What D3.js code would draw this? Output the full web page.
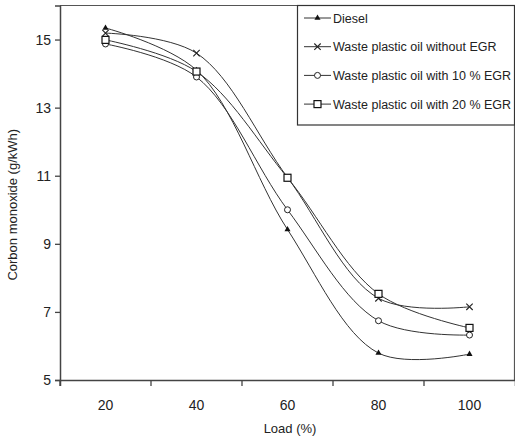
<!DOCTYPE html>
<html><head><meta charset="utf-8">
<script src="https://cdn.jsdelivr.net/npm/d3@7"></script>
<style>body{margin:0;background:#fff}svg{display:block;font-family:"Liberation Sans",Arial,sans-serif}</style>
</head><body><svg id="c" width="515" height="441"></svg>
<script>
const loads = [20, 40, 60, 80, 100];
const diesel = [15.34, 14.1, 9.42, 5.79, 5.76];
const wpoNoEGR = [15.19, 14.6, 10.95, 7.4, 7.15];
const wpo10EGR = [14.87, 13.9, 10.0, 6.74, 6.32];
const wpo20EGR = [14.99, 14.06, 10.94, 7.53, 6.53];
const yTicks = [5, 7, 9, 11, 13, 15];
const seriesNames = ["Diesel", "Waste plastic oil without EGR", "Waste plastic oil with 10 % EGR", "Waste plastic oil with 20 % EGR"];
const seriesValues = [diesel, wpoNoEGR, wpo10EGR, wpo20EGR];
const markers = ["triangle", "cross", "circle", "square"];

const svg = d3.select("#c");
const L = 60, R = 514.5, T = 5.5, B = 380;
const x = d3.scaleBand().domain(loads).range([L, R + 0.5]);
const y = d3.scaleLinear().domain([5, 16]).range([B, T]);
const cx = v => x(v) + x.bandwidth() / 2;
const col = "#333";

// frame
svg.append("path").attr("d", `M${L},${T}H${R}V${B}`).attr("fill", "none").attr("stroke", "#555").attr("stroke-width", 1.2);

const xa = svg.append("g").attr("transform", `translate(0,${B})`)
  .call(d3.axisBottom(x).tickSize(6).tickFormat(""));
xa.select(".domain").attr("stroke", "#444").attr("stroke-width", 1.5);
xa.selectAll(".tick line").attr("transform", d => `translate(${-x.bandwidth()/2},0)`).attr("stroke", "#444").attr("stroke-width", 1.3);
svg.append("g").selectAll("text").data(loads).join("text")
  .attr("x", d => cx(d)).attr("y", 410).attr("text-anchor", "middle")
  .attr("font-size", 14).attr("fill", "#222").text(d => d);

const ya = svg.append("g").attr("transform", `translate(${L},0)`)
  .call(d3.axisLeft(y).tickValues(yTicks).tickSize(5).tickPadding(4));
ya.select(".domain").attr("stroke", "#444").attr("stroke-width", 1.5);
ya.selectAll(".tick line").attr("stroke", "#444").attr("stroke-width", 1.3);
ya.selectAll(".tick text").attr("font-size", 14).attr("fill", "#222").attr("font-family", "Liberation Sans, Arial, sans-serif");

svg.append("text").attr("x", 290).attr("y", 433).attr("text-anchor", "middle")
  .attr("font-size", 13).attr("fill", "#222").text("Load (%)");
svg.append("text").attr("transform", `translate(17,${(T + B) / 2 + 12}) rotate(-90)`)
  .attr("text-anchor", "middle").attr("font-size", 13).attr("fill", "#222")
  .text("Corbon monoxide (g/kWh)");

const line = d3.line().x((d, i) => cx(loads[i])).y(d => y(d)).curve(d3.curveCatmullRom.alpha(0.5));
seriesValues.forEach(vals => {
  svg.append("path").attr("d", line(vals)).attr("fill", "none").attr("stroke", col).attr("stroke-width", 1);
});

function drawMarker(g, type, px, py) {
  if (type === "triangle") {
    g.append("path").attr("d", d3.symbol(d3.symbolTriangle, 16)()).attr("transform", `translate(${px},${py})`).attr("fill", "#111");
  } else if (type === "cross") {
    g.append("path").attr("d", `M${px-3.2},${py-3.2}L${px+3.2},${py+3.2}M${px-3.2},${py+3.2}L${px+3.2},${py-3.2}`).attr("stroke", "#222").attr("stroke-width", 1.1);
  } else if (type === "circle") {
    g.append("circle").attr("cx", px).attr("cy", py).attr("r", 3).attr("fill", "#fff").attr("stroke", "#222").attr("stroke-width", 1);
  } else {
    g.append("rect").attr("x", px - 3.5).attr("y", py - 3.5).attr("width", 7).attr("height", 7).attr("fill", "#fff").attr("stroke", "#111").attr("stroke-width", 1.2);
  }
}
const mg = svg.append("g");
seriesValues.forEach((vals, s) => vals.forEach((v, i) => drawMarker(mg, markers[s], cx(loads[i]), y(v))));

// legend
const lg = svg.append("g");
lg.append("rect").attr("x", 297.5).attr("y", T).attr("width", R - 297.5).attr("height", 119.5)
  .attr("fill", "#fff").attr("stroke", "#333").attr("stroke-width", 1.2);
seriesNames.forEach((n, i) => {
  const yy = 18 + i * 28.7;
  lg.append("line").attr("x1", 304).attr("x2", 331).attr("y1", yy).attr("y2", yy).attr("stroke", col);
  drawMarker(lg, markers[i], 317.5, yy);
  lg.append("text").attr("x", 333).attr("y", yy + 4.5).attr("font-size", 12.5).attr("fill", "#222").text(n);
});
</script></body></html>
